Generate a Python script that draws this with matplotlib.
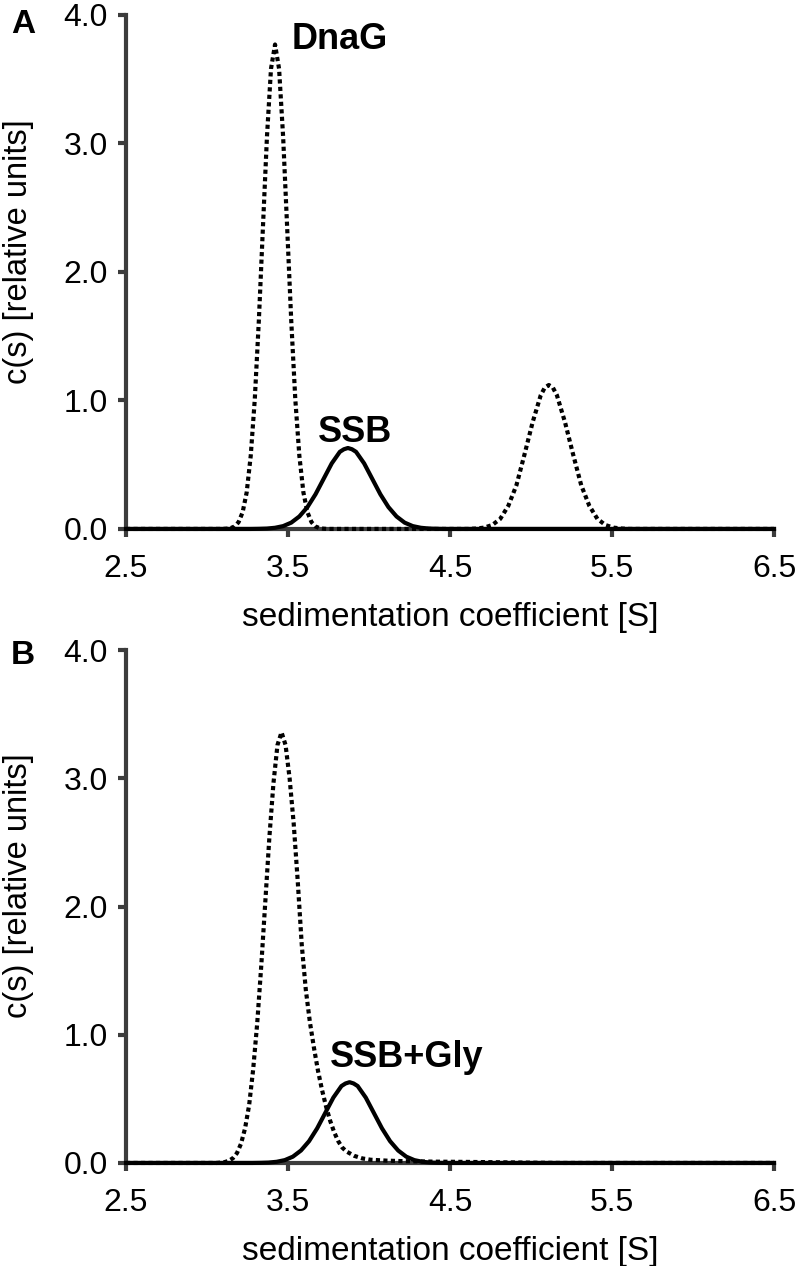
import matplotlib
matplotlib.use("Agg")
import matplotlib.pyplot as plt

plt.rcParams["font.family"] = ["Liberation Sans", "DejaVu Sans"]

# panel A - DnaG (dotted), two species
dnag_a_s = [2.5, 3.095, 3.12, 3.145, 3.17, 3.195, 3.22, 3.245, 3.27, 3.295, 3.32, 3.345,
            3.37, 3.395, 3.42, 3.445, 3.47, 3.495, 3.52, 3.545, 3.57, 3.595, 3.62,
            3.645, 3.67, 3.695, 3.72, 3.745,
            4.61, 4.66, 4.71, 4.76, 4.81, 4.86, 4.91, 4.96, 5.01, 5.06, 5.085, 5.11,
            5.135, 5.16, 5.21, 5.26, 5.31, 5.36, 5.41, 5.46, 5.51, 5.56, 5.61, 6.5]
dnag_a_c = [0.0, 0.0, 0.002, 0.006, 0.019, 0.053, 0.13, 0.285, 0.57, 1.01, 1.62, 2.34,
            3.05, 3.58, 3.77, 3.58, 3.05, 2.34, 1.62, 1.01, 0.57, 0.285, 0.13,
            0.053, 0.019, 0.006, 0.002, 0.0,
            0.0, 0.003, 0.010, 0.030, 0.078, 0.18, 0.34, 0.58, 0.83, 1.04, 1.10, 1.12,
            1.10, 1.04, 0.83, 0.58, 0.34, 0.18, 0.078, 0.030, 0.010, 0.003, 0.0, 0.0]

# panel A - SSB (solid)
ssb_a_s = [2.5, 3.27, 3.32, 3.37, 3.42, 3.47, 3.52, 3.57, 3.62, 3.67, 3.72, 3.77, 3.82,
           3.845, 3.87, 3.895, 3.92, 3.97, 4.02, 4.07, 4.12, 4.17, 4.22, 4.27, 4.32,
           4.37, 4.42, 4.47, 6.5]
ssb_a_c = [0.0, 0.0, 0.001, 0.003, 0.009, 0.022, 0.049, 0.097, 0.17, 0.27, 0.39, 0.51, 0.60,
           0.62, 0.63, 0.62, 0.60, 0.51, 0.39, 0.27, 0.17, 0.097, 0.049, 0.022, 0.009,
           0.003, 0.001, 0.0, 0.0]

# panel B - DnaG (dotted)
dnag_b_s = [2.5, 3.06, 3.085, 3.11, 3.135, 3.16, 3.185, 3.21, 3.235, 3.26, 3.285, 3.31,
            3.335, 3.36, 3.385, 3.41, 3.435, 3.46, 3.485, 3.51, 3.535, 3.56, 3.585,
            3.61, 3.635, 3.66, 3.685, 3.71, 3.735, 3.76, 3.785, 3.81, 3.835, 3.86,
            3.91, 3.96, 4.01, 4.11, 4.21, 4.31, 4.41, 4.61, 4.81, 5.01, 5.2, 6.5]
dnag_b_c = [0.0, 0.0, 0.003, 0.007, 0.017, 0.037, 0.077, 0.15, 0.27, 0.45, 0.73, 1.09,
            1.54, 2.04, 2.54, 2.96, 3.26, 3.36, 3.26, 3.0, 2.65, 2.2, 1.7,
            1.35, 1.1, 0.9, 0.72, 0.57, 0.44, 0.33, 0.24, 0.17, 0.12, 0.09,
            0.055, 0.035, 0.025, 0.018, 0.014, 0.012, 0.01, 0.008, 0.005, 0.002, 0.0, 0.0]

# panel B - SSB+Gly (solid)
ssb_b_s = [2.5, 3.28, 3.33, 3.38, 3.43, 3.48, 3.53, 3.58, 3.63, 3.68, 3.73, 3.78, 3.83,
           3.855, 3.88, 3.905, 3.93, 3.98, 4.03, 4.08, 4.13, 4.18, 4.23, 4.28, 4.33,
           4.38, 4.43, 4.48, 6.5]
ssb_b_c = [0.0, 0.0, 0.001, 0.003, 0.009, 0.022, 0.049, 0.097, 0.17, 0.27, 0.39, 0.51, 0.60,
           0.62, 0.63, 0.62, 0.60, 0.51, 0.39, 0.27, 0.17, 0.097, 0.049, 0.022, 0.009,
           0.003, 0.001, 0.0, 0.0]

x_ticks = [2.5, 3.5, 4.5, 5.5, 6.5]
y_ticks = [0.0, 1.0, 2.0, 3.0, 4.0]

axis_col = "#3c3c3c"

fig = plt.figure(figsize=(8, 12.66), dpi=100)
ax_a = fig.add_axes([0.1575, 0.5822, 0.81, 0.406])
ax_b = fig.add_axes([0.1575, 0.0814, 0.81, 0.405])


def style(ax):
    ax.set_xlim(2.5, 6.5)
    ax.set_ylim(0, 4.0)
    for side in ["top", "right"]:
        ax.spines[side].set_visible(False)
    for side in ["left", "bottom"]:
        ax.spines[side].set_color(axis_col)
        ax.spines[side].set_linewidth(3)
    ax.set_xticks(x_ticks)
    ax.set_xticklabels([f"{v:.1f}" for v in x_ticks])
    ax.set_yticks(y_ticks)
    ax.set_yticklabels([f"{v:.1f}" for v in y_ticks])
    ax.tick_params(axis="both", direction="out", length=6, width=3, color=axis_col,
                   labelsize=23)
    ax.tick_params(axis="y", pad=7)
    ax.tick_params(axis="x", pad=12)
    ax.set_xlabel("sedimentation coefficient [S]", fontsize=24, labelpad=13)
    ax.set_ylabel("c(s) [relative units]", fontsize=23.5)
    ax.yaxis.set_label_coords(-0.142, 0.54)


for ax in (ax_a, ax_b):
    style(ax)

ax_a.plot(dnag_a_s, dnag_a_c, color="black", lw=3, ls=(0, (1, 0.8)), clip_on=False, zorder=3)
ax_a.plot(ssb_a_s, ssb_a_c, color="black", lw=3, clip_on=False, zorder=4)
ax_b.plot(dnag_b_s, dnag_b_c, color="black", lw=3, ls=(0, (1, 0.8)), clip_on=False, zorder=3)
ax_b.plot(ssb_b_s, ssb_b_c, color="black", lw=3, clip_on=False, zorder=4)

ax_a.text(3.525, 3.81, "DnaG", fontsize=26, fontweight="bold", ha="left", va="center")
ax_a.text(3.914, 0.68, "SSB", fontsize=26, fontweight="bold", ha="center", va="baseline")
ax_b.text(3.76, 0.75, "SSB+Gly", fontsize=26, fontweight="bold", ha="left", va="baseline")

fig.text(0.014, 0.981, "A", fontsize=24, fontweight="bold", ha="left", va="center")
fig.text(0.014, 0.4825, "B", fontsize=24, fontweight="bold", ha="left", va="center")

fig.savefig("out.png", dpi=100)
